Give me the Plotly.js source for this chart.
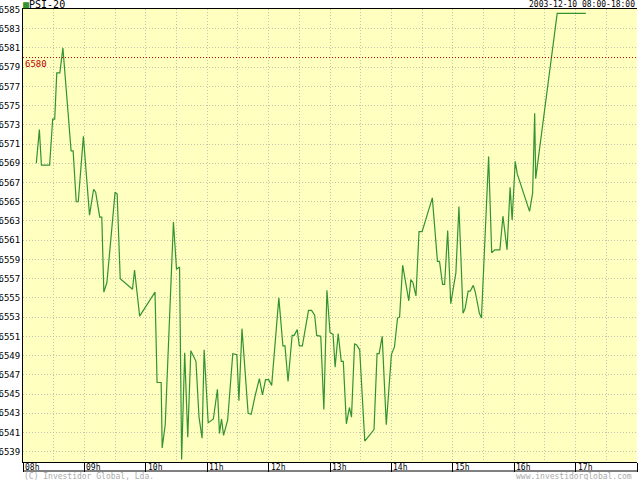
<!DOCTYPE html>
<html>
<head>
<meta charset="utf-8">
<script src="https://cdn.plot.ly/plotly-3.0.1.min.js"></script>
<style>html,body{margin:0;padding:0;background:#fff;}#chart{width:640px;height:480px;}</style>
</head>
<body>
<div id="chart"></div>
<script>
var day = "2003-12-10";
var times = ["08:13","08:16","08:18","08:26","08:29","08:31","08:33","08:36","08:39","08:47","08:49","08:52","08:54","08:59",
"09:05","09:09","09:11","09:15","09:17","09:19","09:22","09:30","09:32","09:35","09:47","09:49","09:54",
"10:09","10:11","10:15","10:16","10:19","10:27","10:30","10:33","10:35","10:38","10:41","10:44","10:49","10:52","10:55","10:57",
"11:01","11:06","11:10","11:12","11:14","11:16","11:20","11:25","11:29","11:31","11:34","11:40","11:43","11:47","11:51","11:54","11:57",
"12:00","12:03","12:10","12:14","12:16","12:19","12:23","12:25","12:28","12:30","12:33","12:39","12:42","12:45","12:47","12:51","12:54","12:57",
"13:00","13:03","13:05","13:08","13:11","13:13","13:16","13:19","13:21","13:24","13:26","13:29","13:34","13:43","13:46","13:48","13:51","13:55",
"14:00","14:03","14:06","14:08","14:11","14:17","14:19","14:21","14:24","14:27","14:30","14:40","14:45","14:47","14:50","14:52","14:55","14:58",
"15:03","15:06","15:10","15:12","15:15","15:17","15:20","15:22","15:26","15:28","15:35","15:38","15:41","15:46","15:49","15:53","15:56","15:58",
"16:01","16:03","16:15","16:18","16:20","16:21","16:42","17:10"];
var values = [6569.0,6572.5,6568.8,6568.8,6573.6,6573.6,6578.4,6578.4,6581.0,6570.3,6570.3,6565.0,6565.0,6571.8,
6563.6,6566.3,6566.0,6563.4,6563.4,6555.6,6556.6,6566.0,6565.8,6557.0,6555.9,6557.9,6553.1,
6555.6,6546.2,6546.2,6539.4,6541.8,6562.9,6558.0,6558.2,6538.2,6549.3,6540.5,6549.5,6548.4,6542.6,6540.4,6549.6,
6542.0,6542.4,6545.5,6540.9,6542.4,6540.7,6542.3,6549.2,6549.1,6544.3,6551.8,6543.0,6542.9,6544.9,6546.6,6544.9,6546.5,
6546.5,6545.9,6555.0,6550.0,6550.0,6546.3,6551.1,6551.1,6551.7,6550.0,6550.0,6553.7,6553.7,6553.2,6551.1,6551.0,6543.4,6555.8,
6551.4,6551.2,6547.8,6551.3,6548.4,6548.4,6541.9,6543.6,6542.6,6550.2,6550.1,6549.6,6540.1,6541.3,6549.2,6549.2,6551.0,6541.8,
6549.1,6549.9,6552.9,6553.0,6558.4,6554.7,6556.9,6556.6,6555.2,6561.9,6561.9,6565.4,6558.8,6558.8,6556.4,6556.4,6562.0,6554.4,
6557.6,6564.5,6553.4,6553.9,6555.7,6555.7,6556.3,6555.6,6553.4,6552.9,6569.7,6559.7,6560.0,6560.0,6563.5,6560.0,6566.5,6563.1,
6569.2,6567.9,6564.0,6565.9,6574.2,6567.4,6584.6,6584.6];
var hourLabels = ["08h","09h","10h","11h","12h","13h","14h","15h","16h","17h"];
var hourTimes = ["08:00","09:00","10:00","11:00","12:00","13:00","14:00","15:00","16:00","17:00"];
var yTicks = [];
for (var v = 6539; v <= 6585; v += 2) yTicks.push(v);
var refLevel = 6580;
var seriesName = "PSI-20";
var titleText = "2003-12-10 08:00-18:00";
var copyText = "(C) Investidor Global, Lda.";
var siteText = "www.investidorglobal.com";

var font = "DejaVu Sans Mono, monospace";
var green = "#339333";
var gridCol = "#c4c4b0";
var dotDash = "1px,2px";

var trace = {
  x: times.map(function(t){return day + " " + t;}),
  y: values,
  type: "scatter",
  mode: "lines",
  line: {color: green, width: 1.2},
  hoverinfo: "skip"
};

var annotations = [];
hourLabels.forEach(function(l, i){
  annotations.push({x: day + " " + hourTimes[i], xref: "x", y: -0.0005, yref: "paper",
    text: l, showarrow: false, xanchor: "left", yanchor: "top", xshift: 1, borderpad: 0,
    font: {family: font, size: 8, color: "#000"}});
});
annotations.push({x: 0, xref: "paper", y: refLevel, yref: "y", text: String(refLevel), showarrow: false,
  xanchor: "left", yanchor: "top", xshift: 1, yshift: 0, borderpad: 0, font: {family: font, size: 9, color: "#bb0000"}});
annotations.push({x: -0.002, xref: "paper", y: 1.0099, yref: "paper", showarrow: false, xanchor: "left", yanchor: "middle",
  borderpad: 0, text: '<span style="color:' + green + '">■</span>' + seriesName, font: {family: font, size: 10, color: "#000"}});
annotations.push({x: 0.9985, xref: "paper", y: 1.0099, yref: "paper", showarrow: false, xanchor: "right", yanchor: "middle",
  borderpad: 0, text: titleText, font: {family: font, size: 8, color: "#000"}});
annotations.push({x: 0, xref: "paper", y: -0.031, yref: "paper", showarrow: false, xanchor: "left", yanchor: "middle",
  borderpad: 0, text: copyText, font: {family: font, size: 8, color: "#aaaaaa"}});
annotations.push({x: 0.994, xref: "paper", y: -0.031, yref: "paper", showarrow: false, xanchor: "right", yanchor: "middle",
  borderpad: 0, text: siteText, font: {family: font, size: 8, color: "#aaaaaa"}});

var layout = {
  width: 640, height: 480,
  margin: {l: 23, r: 3, t: 9, b: 18, pad: 0},
  paper_bgcolor: "#ffffff",
  plot_bgcolor: "#ffffc0",
  showlegend: false,
  xaxis: {
    type: "date",
    range: [day + " 08:00", day + " 18:00"],
    tick0: day + " 08:00", dtick: 3600000,
    ticks: "outside", ticklen: 9, tickcolor: "#000", tickwidth: 1,
    showticklabels: false,
    showgrid: true, gridcolor: gridCol, griddash: dotDash, gridwidth: 1,
    minor: {dtick: 1800000, tick0: day + " 08:00", showgrid: true, gridcolor: gridCol, griddash: dotDash, gridwidth: 1, ticks: ""},
    showline: true, linecolor: "#000", linewidth: 1, mirror: true,
    zeroline: false, fixedrange: true
  },
  yaxis: {
    range: [6537.93, 6585.05],
    tickmode: "array", tickvals: yTicks, ticktext: yTicks.map(String),
    ticks: "", ticklabelstandoff: 0,
    tickfont: {family: font, size: 9, color: "#000"},
    showgrid: true, gridcolor: gridCol, griddash: dotDash, gridwidth: 1,
    showline: true, linecolor: "#000", linewidth: 1,
    zeroline: false, fixedrange: true
  },
  shapes: [
    {type: "line", xref: "paper", yref: "y", x0: 0, x1: 1, y0: refLevel, y1: refLevel,
     line: {color: "#bb0000", width: 1, dash: "1px,2px"}},
    {type: "line", xref: "paper", yref: "paper", x0: 0, x1: 1, y0: -0.0199, y1: -0.0199,
     line: {color: "#000", width: 1}}
  ],
  annotations: annotations
};

Plotly.newPlot("chart", [trace], layout, {staticPlot: true, displayModeBar: false});
</script>
</body>
</html>
